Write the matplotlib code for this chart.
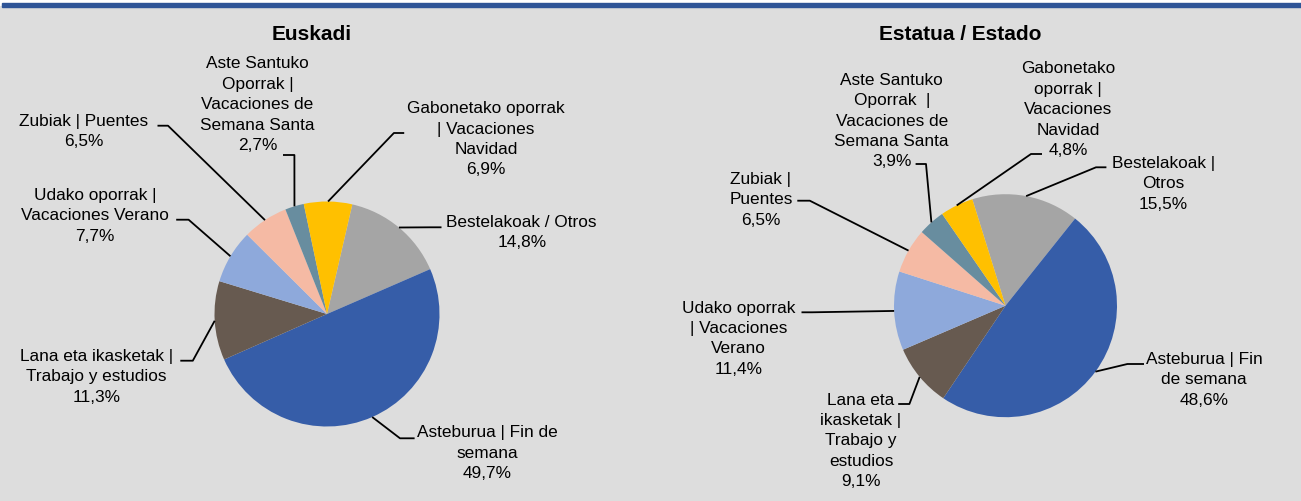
import numpy as np
import matplotlib
matplotlib.use("Agg")
import matplotlib.pyplot as plt
from matplotlib.patches import Rectangle

# -----------------------------------
# DATA
# -----------------------------------

titles = ["Euskadi", "Estatua / Estado"]

# slices in clockwise order
slice_colors = ["#A5A5A5", "#365DA8", "#675A50", "#8EA9DB",
                "#F5BAA4", "#688D9F", "#FFC000"]

values_eu = [14.8, 49.7, 11.3, 7.7, 6.5, 2.7, 6.9]
labels_eu = [
    "Bestelakoak / Otros",
    "Asteburua | Fin de\nsemana",
    "Lana eta ikasketak |\nTrabajo y estudios",
    "Udako oporrak |\nVacaciones Verano",
    "Zubiak | Puentes",
    "Aste Santuko\nOporrak |\nVacaciones de\nSemana Santa",
    "Gabonetako oporrak\n| Vacaciones\nNavidad",
]

values_es = [15.5, 48.6, 9.1, 11.4, 6.5, 3.9, 4.8]
labels_es = [
    "Bestelakoak |\nOtros",
    "Asteburua | Fin\nde semana",
    "Lana eta\nikasketak |\nTrabajo y\nestudios",
    "Udako oporrak\n| Vacaciones\nVerano",
    "Zubiak |\nPuentes",
    "Aste Santuko\nOporrak  |\nVacaciones de\nSemana Santa",
    "Gabonetako\noporrak |\nVacaciones\nNavidad",
]

# -----------------------------------
# LAYOUT (pixel positions, y from top)
# -----------------------------------

W, H = 1301, 502

pies = [
    dict(values=values_eu, labels=labels_eu, center=(327, 315), radius=112.5,
         start=77, title_pos=(312, 34),
         # text centre, point touching the text, elbow point
         boxes=[((521.7, 232.7), (441.5, 228.3), (430, 228.3)),
                ((487, 453.3), (414.6, 439.3), (400, 439.3)),
                ((96.6, 377), (180.3, 361.7), (192.8, 361.7)),
                ((95, 215.7), (176.2, 220.7), (188.6, 220.7)),
                ((84, 131.7), (157.5, 126.7), (168, 126.7)),
                ((257.5, 104.6), (283, 156), (294.4, 156)),
                ((486, 139.3), (404.2, 134), (393.9, 134))]),
    dict(values=values_es, labels=labels_es, center=(1005.5, 306.7), radius=111.5,
         start=107.3, title_pos=(960.5, 34),
         boxes=[((1163.5, 183.8), (1106.4, 168.3), (1096, 168.3)),
                ((1204, 380), (1144, 365), (1127.4, 365)),
                ((861, 441), (898.2, 405), (909.4, 405)),
                ((738.5, 338.6), (801.5, 313.3), (812, 313.3)),
                ((761, 199.8), (797.3, 201.7), (809.8, 201.7)),
                ((891.7, 121), (915.6, 165), (926, 165)),
                ((1068, 109.7), (1042, 155), (1031, 155))]),
]


def py(y):
    return H - y


fig = plt.figure(figsize=(W / 100, H / 100), dpi=100, facecolor="white")
ax = fig.add_axes([0, 0, 1, 1])

# background and top rule
ax.add_patch(Rectangle((0, 0), W, py(7), color="#DDDDDD", zorder=0))
ax.add_patch(Rectangle((2, py(7.5)), W - 2, 3.5, color="#2F5597", zorder=0))

font = "Liberation Sans"

for p, t in zip(pies, titles):
    cx, cy = p["center"][0], py(p["center"][1])
    wedges, _ = ax.pie(p["values"], colors=slice_colors, startangle=p["start"],
                       counterclock=False, radius=p["radius"], center=(cx, cy),
                       wedgeprops=dict(linewidth=0), frame=True)

    ax.text(p["title_pos"][0], py(p["title_pos"][1]), t, ha="center", va="center",
            fontsize=15, fontweight="bold", family=font)

    for w, lab, val, box in zip(wedges, p["labels"], p["values"], p["boxes"]):
        (tx, ty), (lx, ly), (ex, ey) = box
        mid = np.deg2rad((w.theta1 + w.theta2) / 2)
        px = cx + p["radius"] * np.cos(mid)
        pyy = cy + p["radius"] * np.sin(mid)
        ax.plot([px, ex, lx], [pyy, py(ey), py(ly)], color="black", lw=1.3,
                solid_capstyle="butt", zorder=3)
        txt = lab + "\n" + f"{val:.1f}".replace(".", ",") + "%"
        ax.text(tx, py(ty), txt, ha="center", va="center", multialignment="center",
                fontsize=12.4, family=font, linespacing=1.45, color="black")

# pie() resets limits and aspect
ax.set_xlim(0, W)
ax.set_ylim(0, H)
ax.set_aspect("auto")
ax.axis("off")

fig.savefig("out.png", dpi=100, facecolor=fig.get_facecolor())
